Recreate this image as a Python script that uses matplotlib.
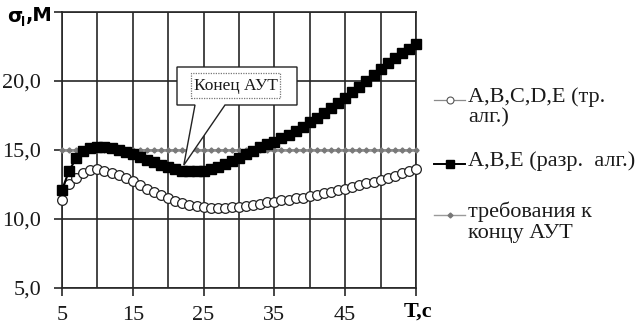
import matplotlib
matplotlib.use("Agg")
import matplotlib.pyplot as plt
from matplotlib.lines import Line2D
from matplotlib.patches import Polygon, Rectangle

# ---- data -------------------------------------------------------------
t = list(range(5, 56))

sigma_full = [11.35, 12.55, 13.0, 13.3, 13.55, 13.6, 13.5, 13.35, 13.2, 13.0,
              12.75, 12.45, 12.2, 11.95, 11.75, 11.5, 11.3, 11.15, 11.0, 10.95,
              10.85, 10.8, 10.8, 10.8, 10.85, 10.9, 10.95, 11.0, 11.1, 11.2,
              11.25, 11.35, 11.4, 11.5, 11.55, 11.65, 11.75, 11.85, 11.95, 12.1,
              12.2, 12.35, 12.45, 12.6, 12.7, 12.85, 13.0, 13.15, 13.3, 13.45,
              13.65]

sigma_reduced = [12.1, 13.5, 14.4, 14.9, 15.15, 15.25, 15.25, 15.15, 15.0, 14.85,
                 14.7, 14.5, 14.3, 14.1, 13.9, 13.75, 13.6, 13.5, 13.45, 13.45,
                 13.5, 13.6, 13.75, 13.95, 14.2, 14.45, 14.7, 14.95, 15.2, 15.4,
                 15.6, 15.85, 16.1, 16.4, 16.7, 17.0, 17.35, 17.7, 18.05, 18.4,
                 18.8, 19.2, 19.6, 20.0, 20.45, 20.9, 21.3, 21.65, 22.0, 22.35,
                 22.7]

requirement = [15.0] * len(t)

x_major = [5, 15, 25, 35, 45, 55]
x_major_labels = ["5", "15", "25", "35", "45", ""]
x_minor = [10, 20, 30, 40, 50]
y_ticks = [5, 10, 15, 20, 25]
y_labels = ["5,0", "10,0", "15,0", "20,0", ""]

label_full = "A,B,C,D,E (тр.\nалг.)"
label_reduced = "A,B,E (разр.  алг.)"
label_req = "требования к\nконцу АУТ"
callout_text = "Конец АУТ"

# ---- figure -----------------------------------------------------------
SERIF = ["Liberation Serif", "DejaVu Serif"]
plt.rcParams["font.family"] = SERIF

W, H = 638, 331
fig = plt.figure(figsize=(W / 100, H / 100), dpi=100)
ax = fig.add_axes([62 / W, 43 / H, 354 / W, 276 / H])

GRID = "#262626"
REQ = "#9a9a9a"

ax.set_xlim(5, 55)
ax.set_ylim(5, 25)
ax.set_xticks(x_major)
ax.set_xticklabels(x_major_labels)
ax.set_xticks(x_minor, minor=True)
ax.set_yticks(y_ticks)
ax.set_yticklabels(y_labels)

ax.grid(True, which="both", color=GRID, linewidth=1.2, zorder=0)
ax.set_axisbelow(True)
for s in ax.spines.values():
    s.set_color(GRID)
    s.set_linewidth(1.2)

ax.tick_params(axis="both", which="major", length=6, width=1.2, color=GRID,
               labelsize=16, colors="#1a1a1a")
ax.tick_params(axis="x", which="major", pad=7)
ax.tick_params(axis="y", which="major", pad=9)
ax.tick_params(axis="x", which="minor", length=0)

# requirement line
ax.plot(t, requirement, color=REQ, linewidth=2.0, marker="D", markersize=2.6,
        markerfacecolor="#7a7a7a", markeredgecolor="#7a7a7a", zorder=3,
        clip_on=False)
# full-algorithm series
ax.plot(t, sigma_full, color="#333333", linewidth=0.8, marker="o",
        markersize=7, markerfacecolor="white", markeredgecolor="#222222",
        markeredgewidth=0.9, zorder=4, clip_on=False)
# reduced-algorithm series
ax.plot(t, sigma_reduced, color="black", linewidth=1.5, marker="s",
        markersize=7.5, markerfacecolor="black", markeredgecolor="black",
        zorder=5, clip_on=False)

# ---- callout "Конец АУТ" ----------------------------------------------
def px(x, y):
    """figure-pixel (from top-left) -> figure fraction"""
    return (x / W, 1 - y / H)

tip_data = (22.2, 13.9)
tip_fig = fig.transFigure.inverted().transform(ax.transData.transform(tip_data))
outline = [px(177, 67), px(297, 67), px(297, 105), px(225, 105),
           tuple(tip_fig), px(195, 105), px(177, 105)]
fig.add_artist(Polygon(outline, closed=True, facecolor="white",
                       edgecolor="#222222", linewidth=1.0,
                       transform=fig.transFigure, zorder=10))
x0, y0 = px(191, 98)
x1, y1 = px(280, 73)
fig.add_artist(Rectangle((x0, y0), x1 - x0, y1 - y0, facecolor="none",
                         edgecolor="#777777", linewidth=0.9, linestyle=(0, (1, 1)),
                         transform=fig.transFigure, zorder=11))
fig.text(*px(235.5, 86), callout_text, ha="center", va="center", fontsize=12.5,
         color="#1a1a1a", zorder=12)

# ---- axis captions ----------------------------------------------------
fig.text(*px(7, 17), "σ", fontsize=14, fontweight="bold", ha="left",
         va="center", family=["DejaVu Sans"])
fig.text(*px(21.5, 22), "l", fontsize=9, fontweight="bold", ha="left",
         va="center", family=["DejaVu Sans"])
fig.text(*px(26, 16), ",M", fontsize=14, fontweight="bold", ha="left",
         va="center", family=["DejaVu Sans"])
fig.text(*px(404, 312), "T,c", fontsize=16, fontweight="bold", ha="left",
         va="center")

# ---- legend -----------------------------------------------------------
def legend_entry(y_handle, y_text, label, line_style, marker_style):
    hx0, hx1 = 434 / W, 465 / W
    yy = 1 - y_handle / H
    fig.add_artist(Line2D([hx0, hx1], [yy, yy], transform=fig.transFigure,
                          **line_style))
    fig.add_artist(Line2D([(hx0 + hx1) / 2], [yy], transform=fig.transFigure,
                          linestyle="none", **marker_style))
    fig.text(468 / W, 1 - y_text / H, label, ha="left", va="top",
             fontsize=16, linespacing=1.08, color="#1a1a1a")

legend_entry(100, 87, label_full,
             dict(color="#8a8a8a", linewidth=0.9),
             dict(marker="o", markersize=5, markerfacecolor="white",
                  markeredgecolor="#555555", markeredgewidth=0.8))
legend_entry(164, 151, label_reduced,
             dict(color="black", linewidth=1.4),
             dict(marker="s", markersize=6, markerfacecolor="black",
                  markeredgecolor="black"))
legend_entry(215, 202, label_req,
             dict(color=REQ, linewidth=1.0),
             dict(marker="D", markersize=2.5, markerfacecolor="#777777",
                  markeredgecolor="#777777"))

fig.savefig("out.png", dpi=100)
